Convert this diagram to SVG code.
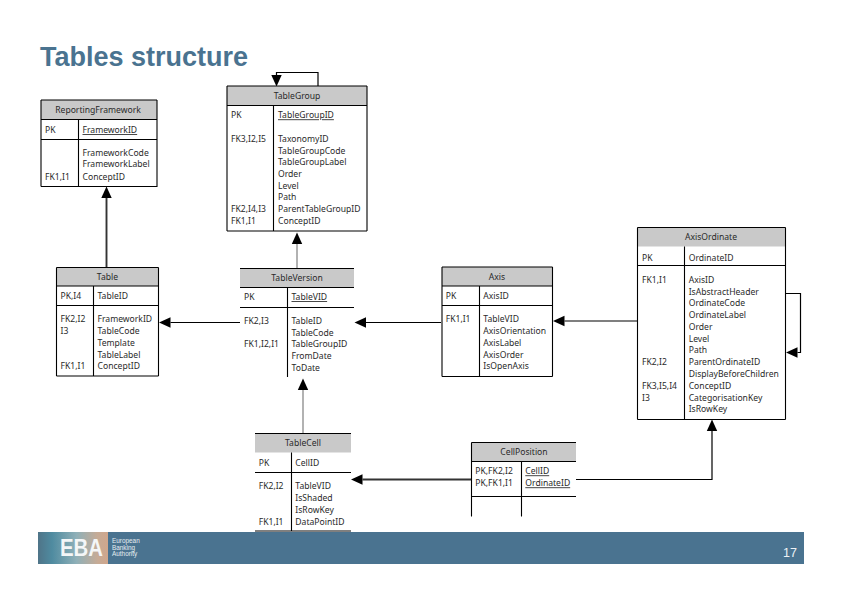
<svg xmlns="http://www.w3.org/2000/svg" width="842" height="595" viewBox="0 0 842 595">
<style>
text{font-family:"Noto Sans","Liberation Sans",Arial,sans-serif;font-size:8.6px;fill:#2a2a2a}
.t{text-anchor:middle}
.u{text-decoration:underline}
.hd{fill:#c9c9c9;stroke:none}
.box{fill:none;stroke:#000;stroke-width:1.1}
.ln{stroke:#000;stroke-width:1.1;fill:none}
.c{fill:none;stroke:#000;stroke-width:1.2}
.thick{fill:none;stroke:#333;stroke-width:1.9}
.gray{fill:none;stroke:#999;stroke-width:1.5}
.title{font-family:"Liberation Sans",Arial,sans-serif;font-size:27px;font-weight:700;fill:#4a7390}
.eba{font-family:"Liberation Sans",Arial,sans-serif;font-size:23px;font-weight:700;fill:#f4f6f7}
.sub{font-family:"Liberation Sans",Arial,sans-serif;font-size:6.4px;fill:#e6edf1}
.num{font-family:"Liberation Sans",Arial,sans-serif;font-size:12.5px;fill:#eef2f5}
</style>
<defs>
<marker id="a" markerUnits="userSpaceOnUse" markerWidth="12" markerHeight="12" refX="0" refY="6" orient="auto"><path d="M0,0.8L11.5,6L0,11.200z" fill="#000"/></marker>
<linearGradient id="lg" x1="0" x2="1" y1="0" y2="0"><stop offset="0" stop-color="#4f7488"/><stop offset=".2" stop-color="#4f8ba0"/><stop offset=".55" stop-color="#8fb0b8"/><stop offset=".85" stop-color="#c6ab96"/><stop offset="1" stop-color="#d0a68c"/></linearGradient>
</defs>
<rect width="842" height="595" fill="#fff"/>
<text id="page-title" class="title" x="40" y="66">Tables structure</text>

<g id="footer">
<rect x="38" y="532" width="766" height="32" fill="#4a7390"/>
<rect x="38" y="532" width="70" height="32" fill="url(#lg)"/>
<text class="eba" x="60" y="556" textLength="43" lengthAdjust="spacingAndGlyphs">EBA</text>
<text class="sub" x="112" y="543">European</text>
<text class="sub" x="112" y="549.500">Banking</text>
<text class="sub" x="112" y="556">Authority</text>
<text class="num" x="783" y="557">17</text>
</g>

<g id="connectors">
<path class="thick" d="M106.500 267V198" marker-end="url(#a)"/>
<path class="gray" d="M297 268V244" marker-end="url(#a)"/>
<path class="c" d="M318 86V72.500H276.500V75" marker-end="url(#a)"/>
<path class="c" d="M240 322.500H170.500" marker-end="url(#a)"/>
<path class="c" d="M441 322.500H366" marker-end="url(#a)"/>
<path class="c" d="M637 321H564.500" marker-end="url(#a)"/>
<path class="gray" d="M303 433V390" marker-end="url(#a)"/>
<path class="thick" d="M471 479.500H362.500" marker-end="url(#a)"/>
<path class="c" d="M576 479.500H712V431" marker-end="url(#a)"/>
<path class="c" d="M785 293.500H800.500V352.500H797.500" marker-end="url(#a)"/>
</g>

<g id="ReportingFramework">
<rect class="hd" x="41" y="100" width="116" height="19.500"/>
<path class="ln" d="M41 100H157M41 119.500H157M41 139.500H157M41 186.500H157V100M41 100V186.500M78.500 119.500V186.500"/>
<text class="t" x="98" y="112.700">ReportingFramework</text>
<text x="45" y="133">PK</text><text class="u" x="82.500" y="133">FrameworkID</text>
<text x="82.500" y="155.700">FrameworkCode</text>
<text x="82.500" y="167">FrameworkLabel</text>
<text x="45" y="179.700">FK1,I1</text><text x="82.500" y="179.700">ConceptID</text>
</g>

<g id="TableGroup">
<rect class="hd" x="227" y="86" width="140" height="19.500"/>
<path class="ln" d="M227 86H367M227 105.500H367M227 231H367M227 86V231M367 86V231M273.500 105.500V231"/>
<text class="t" x="297" y="99">TableGroup</text>
<text x="231" y="118.300">PK</text><text class="u" x="278" y="118.300">TableGroupID</text>
<text x="231" y="142">FK3,I2,I5</text><text x="278" y="142">TaxonomyID</text>
<text x="278" y="153.700">TableGroupCode</text>
<text x="278" y="165.300">TableGroupLabel</text>
<text x="278" y="177.300">Order</text>
<text x="278" y="188.700">Level</text>
<text x="278" y="200.300">Path</text>
<text x="231" y="212.300">FK2,I4,I3</text><text x="278" y="212.300">ParentTableGroupID</text>
<text x="231" y="224">FK1,I1</text><text x="278" y="224">ConceptID</text>
</g>

<g id="Table">
<rect class="hd" x="56.500" y="267.500" width="102" height="18.500"/>
<path class="ln" d="M56.500 267.500H158.500M56.500 286H158.500M56.500 305.500H158.500M56.500 376H158.500M56.500 267.500V376M158.500 267.500V376M93.500 286V376"/>
<text class="t" x="107.500" y="279.700">Table</text>
<text x="60.500" y="299">PK,I4</text><text x="97.500" y="299">TableID</text>
<text x="60.500" y="322.300">FK2,I2</text><text x="97.500" y="322.300">FrameworkID</text>
<text x="60.500" y="334">I3</text><text x="97.500" y="334">TableCode</text>
<text x="97.500" y="346">Template</text>
<text x="97.500" y="358">TableLabel</text>
<text x="60.500" y="369.300">FK1,I1</text><text x="97.500" y="369.300">ConceptID</text>
</g>

<g id="TableVersion">
<rect class="hd" x="240" y="268.500" width="114" height="19"/>
<path class="ln" d="M240 268.500H354M240 287.500H354M240 307.500H354M287.500 287.500V377"/>
<text class="t" x="297" y="280.700">TableVersion</text>
<text x="244" y="300">PK</text><text class="u" x="291.500" y="300">TableVID</text>
<text x="244" y="323.700">FK2,I3</text><text x="291.500" y="323.700">TableID</text>
<text x="291.500" y="335.700">TableCode</text>
<text x="244" y="347.300">FK1,I2,I1</text><text x="291.500" y="347.300">TableGroupID</text>
<text x="291.500" y="359">FromDate</text>
<text x="291.500" y="371">ToDate</text>
</g>

<g id="Axis">
<rect class="hd" x="442" y="267" width="110.500" height="19"/>
<path class="ln" d="M442 267H552.500M442 286H552.500M442 305.500H552.500M442 376.500H552.500M442 267V376.500M552.500 267V376.500M479.500 286V376.500"/>
<text class="t" x="497" y="279.700">Axis</text>
<text x="445.700" y="299">PK</text><text x="483.300" y="299">AxisID</text>
<text x="445.700" y="322.300">FK1,I1</text><text x="483.300" y="322.300">TableVID</text>
<text x="483.300" y="334">AxisOrientation</text>
<text x="483.300" y="345.700">AxisLabel</text>
<text x="483.300" y="357.700">AxisOrder</text>
<text x="483.300" y="369.300">IsOpenAxis</text>
</g>

<g id="AxisOrdinate">
<rect class="hd" x="637.500" y="227.500" width="148" height="19"/>
<path class="ln" d="M637.500 227.500H785.500M637.500 265.500H785.500M637.500 419.500H785.500M637.500 227.500V419.500M785.500 227.500V419.500M684.500 246.500V419.500"/>
<text class="t" x="711" y="240.300">AxisOrdinate</text>
<text x="642" y="260.700">PK</text><text x="688.700" y="260.700">OrdinateID</text>
<text x="642" y="283">FK1,I1</text><text x="688.700" y="283">AxisID</text>
<text x="688.700" y="294.700">IsAbstractHeader</text>
<text x="688.700" y="306.300">OrdinateCode</text>
<text x="688.700" y="318.300">OrdinateLabel</text>
<text x="688.700" y="330">Order</text>
<text x="688.700" y="341.700">Level</text>
<text x="688.700" y="353.300">Path</text>
<text x="642" y="365.300">FK2,I2</text><text x="688.700" y="365.300">ParentOrdinateID</text>
<text x="688.700" y="377.300">DisplayBeforeChildren</text>
<text x="642" y="389">FK3,I5,I4</text><text x="688.700" y="389">ConceptID</text>
<text x="642" y="400.700">I3</text><text x="688.700" y="400.700">CategorisationKey</text>
<text x="688.700" y="412.300">IsRowKey</text>
</g>

<g id="TableCell">
<rect class="hd" x="255" y="433.500" width="96" height="19"/>
<path class="ln" d="M255 433.500H351M255 472.500H351M255 531H351M291.500 452.500V531"/>
<text class="t" x="303" y="445.700">TableCell</text>
<text x="258.700" y="466">PK</text><text x="295.300" y="466">CellID</text>
<text x="258.700" y="489">FK2,I2</text><text x="295.300" y="489">TableVID</text>
<text x="295.300" y="500.700">IsShaded</text>
<text x="295.300" y="512.700">IsRowKey</text>
<text x="258.700" y="524.700">FK1,I1</text><text x="295.300" y="524.700">DataPointID</text>
</g>

<g id="CellPosition">
<rect class="hd" x="471.500" y="442.500" width="104.500" height="19"/>
<path class="ln" d="M471.500 442.500H576M471.500 461.500H576M471.500 496.500H576M471.500 442.500V516.500M521.500 461.500V516.500"/>
<text class="t" x="524" y="455">CellPosition</text>
<text x="475.300" y="474.300">PK,FK2,I2</text><text class="u" x="525.300" y="474.300">CellID</text>
<text x="475.300" y="486.300">PK,FK1,I1</text><text class="u" x="525.300" y="486.300">OrdinateID</text>
</g>
</svg>
